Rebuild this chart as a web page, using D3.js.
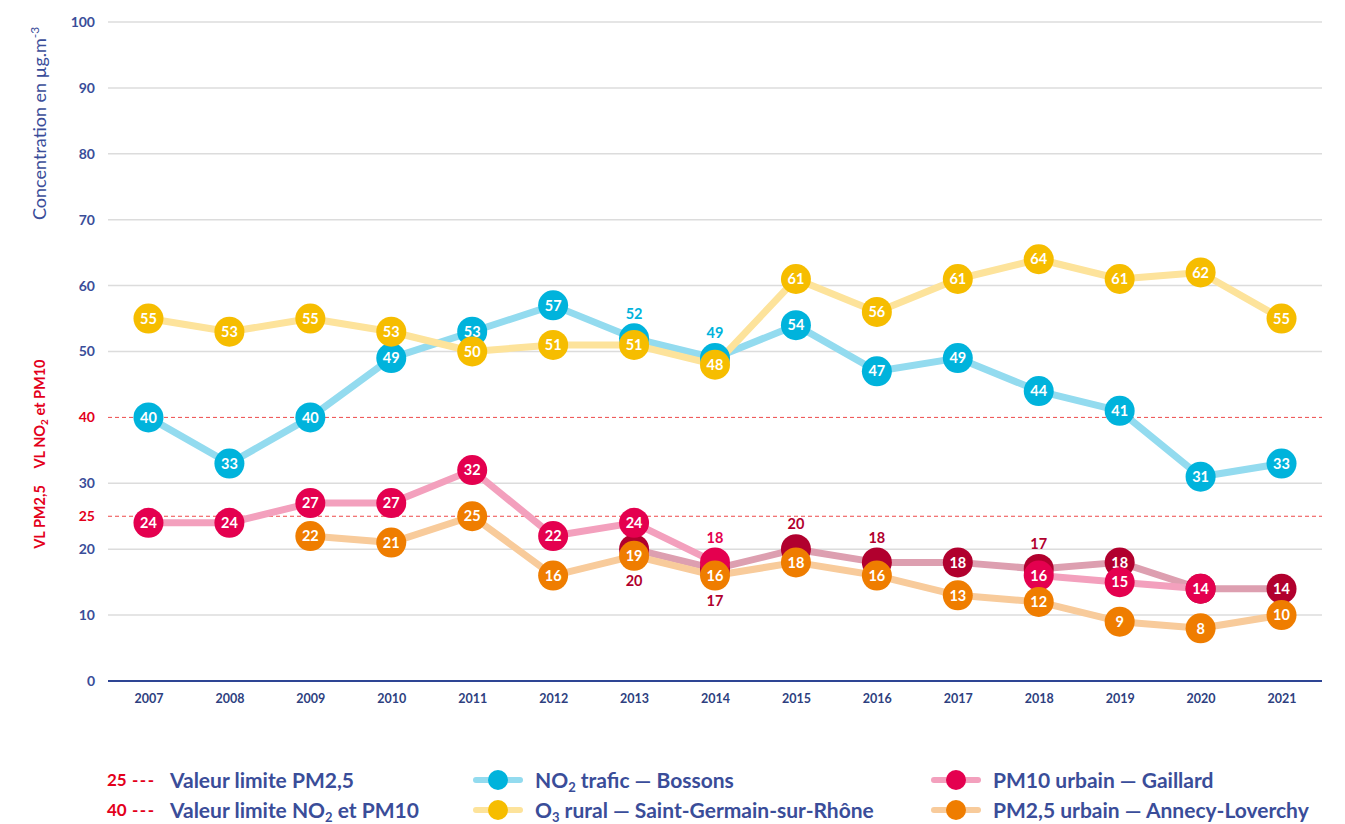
<!DOCTYPE html>
<html>
<head>
<meta charset="utf-8">
<script src="https://cdn.jsdelivr.net/npm/d3@7"></script>
<style>
body { margin: 0; background: #fff; }
svg { display: block; font-family: Lato, "Open Sans", sans-serif; }
</style>
</head>
<body>
<svg id="chart" width="1345" height="824"></svg>
<script>

var years = [2007, 2008, 2009, 2010, 2011, 2012, 2013, 2014, 2015, 2016, 2017, 2018, 2019, 2020, 2021];
var no2Trafic = [40, 33, 40, 49, 53, 57, 52, 49, 54, 47, 49, 44, 41, 31, 33];
var o3Rural = [55, 53, 55, 53, 50, 51, 51, 48, 61, 56, 61, 64, 61, 62, 55];
var pm10Gaillard = [24, 24, 27, 27, 32, 22, 24, 18, null, null, null, 16, 15, 14, null];
var pm10Autre = [null, null, null, null, null, null, 20, 17, 20, 18, 18, 17, 18, 14, 14];
var pm25Annecy = [null, null, 22, 21, 25, 16, 19, 16, 18, 16, 13, 12, 9, 8, 10];
var yTicks = [0, 10, 20, 30, 50, 60, 70, 80, 90, 100];
var limits = [25, 40];

// label placement for covered markers: above / below / none
var labelSide = {
	no2: { 2013: "above", 2014: "above" },
	pm10: { 2014: "above" },
	pm10b: { 2013: "below", 2014: "below", 2015: "above", 2016: "above", 2018: "above", 2020: "none" }
};

var series = [
	{ key: "no2", values: no2Trafic, line: "#93dbef", dot: "#00b3dc" },
	{ key: "o3", values: o3Rural, line: "#fde39b", dot: "#f6bd00" },
	{ key: "pm10b", values: pm10Autre, line: "#dd9fb0", dot: "#b1002e" },
	{ key: "pm10", values: pm10Gaillard, line: "#f3a0bd", dot: "#e4004f" },
	{ key: "pm25", values: pm25Annecy, line: "#f8cb9b", dot: "#ef7d00" }
];

var blue = "#3a4d99";
var red = "#e3001b";

var svg = d3.select("#chart");
var plotLeft = 108, plotRight = 1322, plotTop = 22, plotBottom = 681;

var x = d3.scalePoint().domain(years).range([plotLeft, plotRight]).padding(0.5);
var y = d3.scaleLinear().domain([0, 100]).range([plotBottom, plotTop]);

// gridlines
svg.append("g").selectAll("line").data(yTicks.filter(function(t) { return t > 0; })).enter().append("line")
	.attr("x1", plotLeft).attr("x2", plotRight)
	.attr("y1", function(d) { return y(d); }).attr("y2", function(d) { return y(d); })
	.attr("stroke", "#dcdcdc").attr("stroke-width", 1.5);

// limit lines
svg.append("g").selectAll("line").data(limits).enter().append("line")
	.attr("x1", plotLeft).attr("x2", plotRight)
	.attr("y1", function(d) { return y(d); }).attr("y2", function(d) { return y(d); })
	.attr("stroke", "#ee4a4a").attr("stroke-width", 1).attr("stroke-dasharray", "4,3");

// y axis labels
var yAxis = d3.axisLeft(y).tickValues(yTicks.concat(limits)).tickSize(0).tickPadding(0);
var yg = svg.append("g").attr("transform", "translate(95,0)").call(yAxis);
yg.select(".domain").remove();
yg.selectAll("text")
	.attr("font-family", "Lato, sans-serif").attr("font-size", 14).attr("font-weight", 700)
	.attr("fill", function(d) { return limits.indexOf(d) >= 0 ? red : blue; });

// baseline
svg.append("line").attr("x1", plotLeft).attr("x2", plotRight).attr("y1", y(0)).attr("y2", y(0))
	.attr("stroke", "#2e4594").attr("stroke-width", 2);

// x axis
var xAxis = d3.axisBottom(x).tickSize(0).tickPadding(0);
var xg = svg.append("g").attr("transform", "translate(0," + (y(0) + 13) + ")").call(xAxis);
xg.select(".domain").remove();
xg.selectAll("text")
	.attr("font-family", "Lato, sans-serif").attr("font-size", 12.5).attr("font-weight", 700)
	.attr("fill", "#2e3f7f");

// y title
var yt = svg.append("text").attr("transform", "translate(46,220) rotate(-90)")
	.attr("font-size", 18).attr("fill", blue);
yt.append("tspan").text("Concentration en µg.m");
yt.append("tspan").attr("font-size", 12).attr("dy", -7).text("-3");

var vl1 = svg.append("text").attr("transform", "translate(45,414) rotate(-90)")
	.attr("text-anchor", "middle").attr("font-size", 14.5).attr("font-weight", 700).attr("fill", red);
vl1.append("tspan").text("VL NO");
vl1.append("tspan").attr("font-size", 10).attr("dy", 3).text("2");
vl1.append("tspan").attr("dy", -3).text(" et PM10");

svg.append("text").attr("transform", "translate(45,517) rotate(-90)")
	.attr("text-anchor", "middle").attr("font-size", 14.5).attr("font-weight", 700).attr("fill", red)
	.text("VL PM2,5");

// lines
var line = d3.line()
	.defined(function(d) { return d.v != null; })
	.x(function(d) { return x(d.year); })
	.y(function(d) { return y(d.v); });

function points(s) {
	return s.values.map(function(v, i) { return { year: years[i], v: v, s: s }; });
}

svg.append("g").selectAll("path").data(series).enter().append("path")
	.attr("d", function(s) { return line(points(s)); })
	.attr("fill", "none")
	.attr("stroke", function(s) { return s.line; })
	.attr("stroke-width", 7)
	.attr("stroke-linejoin", "round");

// markers
var r = 15;
series.forEach(function(s) {

	var pts = points(s).filter(function(d) { return d.v != null; });
	var g = svg.append("g");

	g.selectAll("circle").data(pts).enter().append("circle")
		.attr("cx", function(d) { return x(d.year); })
		.attr("cy", function(d) { return y(d.v); })
		.attr("r", r)
		.attr("fill", s.dot);

	g.selectAll("text").data(pts).enter().append("text")
		.attr("x", function(d) { return x(d.year); })
		.attr("y", function(d) {
			var side = (labelSide[s.key] || {})[d.year];
			var off = side == "above" ? -25 : side == "below" ? 32 : 0;
			return y(d.v) + off;
		})
		.attr("dy", "0.36em")
		.attr("text-anchor", "middle")
		.attr("font-size", 14.5).attr("font-weight", 700)
		.attr("fill", function(d) {
			var side = (labelSide[s.key] || {})[d.year];
			return side ? s.dot : "#fff";
		})
		.attr("display", function(d) {
			return (labelSide[s.key] || {})[d.year] == "none" ? "none" : null;
		})
		.text(function(d) { return d.v; });

});// END: series loop

// legend
var lg = svg.append("g").attr("font-weight", 700);
var rows = [780, 810];

[["25", "Valeur limite PM2,5"], ["40", null]].forEach(function(d, i) {
	lg.append("text").attr("x", 107).attr("y", rows[i]).attr("dy", "0.36em")
		.attr("font-size", 17).attr("fill", red).text(d[0]);
	lg.append("text").attr("x", 132).attr("y", rows[i]).attr("dy", "0.36em")
		.attr("font-size", 17).attr("letter-spacing", 1.5).attr("fill", red).text("---");
	var t = lg.append("text").attr("x", 170).attr("y", rows[i]).attr("dy", "0.36em")
		.attr("font-size", 21).attr("fill", blue);
	if (d[1]) {
		t.text(d[1]);
	} else {
		t.append("tspan").text("Valeur limite NO");
		t.append("tspan").attr("font-size", 13).attr("dy", 4).text("2");
		t.append("tspan").attr("dy", -4).text(" et PM10");
	}
});

var legendItems = [
	{ s: series[0], x: 476, row: 0, parts: [["NO"], ["2", "sub"], [" trafic — Bossons"]] },
	{ s: series[1], x: 476, row: 1, parts: [["O"], ["3", "sub"], [" rural — Saint-Germain-sur-Rhône"]] },
	{ s: series[3], x: 934, row: 0, parts: [["PM10 urbain — Gaillard"]] },
	{ s: series[4], x: 934, row: 1, parts: [["PM2,5 urbain — Annecy-Loverchy"]] }
];

legendItems.forEach(function(it) {
	var yy = rows[it.row];
	lg.append("line").attr("x1", it.x).attr("x2", it.x + 44).attr("y1", yy).attr("y2", yy)
		.attr("stroke", it.s.line).attr("stroke-width", 6).attr("stroke-linecap", "round");
	lg.append("circle").attr("cx", it.x + 22).attr("cy", yy).attr("r", 10).attr("fill", it.s.dot);
	var t = lg.append("text").attr("x", it.x + 59).attr("y", yy).attr("dy", "0.36em")
		.attr("font-size", 21).attr("fill", blue);
	var shifted = false;
	it.parts.forEach(function(p) {
		var ts = t.append("tspan").text(p[0]);
		if (p[1] == "sub") {
			ts.attr("font-size", 13).attr("dy", 4);
			shifted = true;
		} else if (shifted) {
			ts.attr("dy", -4);
			shifted = false;
		}
	});
});

</script>
</body>
</html>
